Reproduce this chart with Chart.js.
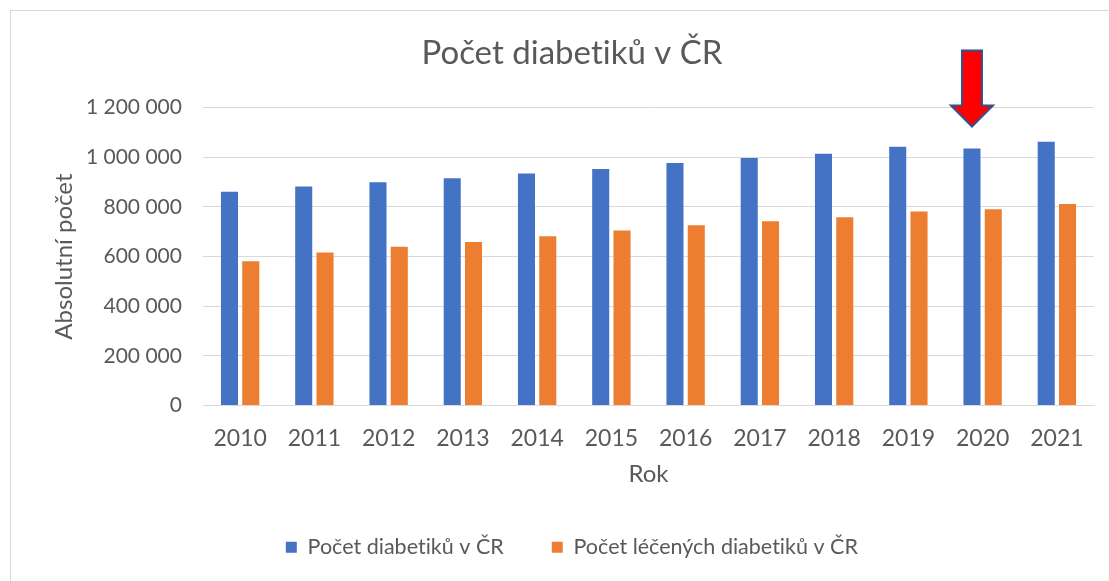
<!DOCTYPE html>
<html>
<head>
<meta charset="utf-8">
<script src="https://cdn.jsdelivr.net/npm/chart.js@4"></script>
<style>
  html, body { margin: 0; padding: 0; background: #fff; overflow: hidden; }
  #wrap { position: relative; width: 1109px; height: 581px; }
  #frame { position: absolute; left: 10px; top: 10px; width: 1200px; height: 700px; border: 1px solid #d9d9d9; box-sizing: border-box; }
  canvas { position: absolute; left: 0; top: 0; }
</style>
</head>
<body>
<div id="wrap">
  <div id="frame"></div>
  <canvas id="chart" width="1109" height="581"></canvas>
</div>
<script>
const years = ['2010', '2011', '2012', '2013', '2014', '2015', '2016', '2017', '2018', '2019', '2020', '2021'];
const diabetici = [861000, 882000, 899000, 915000, 935000, 953000, 977000, 997000, 1014000, 1042000, 1035000, 1062000];
const leceni = [581000, 616000, 639000, 659000, 682000, 705000, 726000, 742000, 758000, 781000, 791000, 812000];
const yTicks = [0, 200000, 400000, 600000, 800000, 1000000, 1200000];
const arrowYear = '2020';

const textColor = '#595959';
const gridColor = '#d9d9d9';

// "1 200 000" style
function fmt(v) {
    return String(v).replace(/\B(?=(\d{3})+(?!\d))/g, ' ');
}

// Lato draws "ti" as a ligature, switch that off
const noLigatures = {
    id: 'noLigatures',
    beforeDraw(chart) {
        chart.ctx.textRendering = 'optimizeSpeed';
        chart.ctx.letterSpacing = '0.01px';
    }
};

// red arrow pointing at the blue 2020 bar
const arrowPlugin = {
    id: 'arrow',
    afterDatasetsDraw(chart) {
        const idx = years.indexOf(arrowYear);
        const bar = chart.getDatasetMeta(0).data[idx];
        if (!bar) return;
        const ctx = chart.ctx;
        const x = bar.x;
        const tip = bar.y - 22;
        const headTop = tip - 21;
        const top = tip - 76;
        ctx.save();
        ctx.beginPath();
        ctx.moveTo(x - 10, top);
        ctx.lineTo(x + 10, top);
        ctx.lineTo(x + 10, headTop);
        ctx.lineTo(x + 21, headTop);
        ctx.lineTo(x, tip);
        ctx.lineTo(x - 21, headTop);
        ctx.lineTo(x - 10, headTop);
        ctx.closePath();
        ctx.fillStyle = '#ff0000';
        ctx.fill();
        ctx.lineWidth = 2;
        ctx.strokeStyle = '#2f528f';
        ctx.stroke();
        ctx.restore();
    }
};

Chart.defaults.font.family = 'Lato';
Chart.defaults.color = textColor;

new Chart(document.getElementById('chart'), {
    type: 'bar',
    data: {
        labels: years,
        datasets: [{
            label: 'Počet diabetiků v ČR',
            data: diabetici,
            backgroundColor: '#4472c4'
        }, {
            label: 'Počet léčených diabetiků v ČR',
            data: leceni,
            backgroundColor: '#ed7d31'
        }]
    },
    options: {
        responsive: false,
        animation: false,
        categoryPercentage: 0.574,
        barPercentage: 0.8,
        layout: { padding: { left: 50, right: 15, top: 0, bottom: 13 } },
        plugins: {
            title: {
                display: true,
                text: 'Počet diabetiků v ČR',
                color: textColor,
                font: { size: 33, weight: 'normal' },
                padding: { top: 34, bottom: 34 }
            },
            legend: {
                position: 'bottom',
                labels: {
                    boxWidth: 11,
                    boxHeight: 11,
                    padding: 48,
                    color: textColor,
                    font: { size: 21.5 }
                }
            },
            tooltip: { enabled: false }
        },
        scales: {
            x: {
                grid: { display: false },
                border: { color: gridColor },
                ticks: { padding: 11, font: { size: 23 }, color: textColor },
                title: {
                    display: true,
                    text: 'Rok',
                    color: textColor,
                    font: { size: 24 },
                    padding: { top: 0, bottom: 0 }
                },
                afterFit(scale) { scale.height = 83; }
            },
            y: {
                min: 0,
                max: 1200000,
                border: { display: false },
                grid: { color: gridColor, lineWidth: 1, drawTicks: false },
                afterBuildTicks(scale) { scale.ticks = yTicks.map(v => ({ value: v })); },
                ticks: {
                    padding: 21,
                    font: { size: 21 },
                    color: textColor,
                    callback: v => fmt(v)
                },
                title: {
                    display: true,
                    text: 'Absolutní počet',
                    color: textColor,
                    font: { size: 24 },
                    padding: { top: 0, bottom: 0 }
                },
                afterFit(scale) { scale.width = 153; }
            }
        }
    },
    plugins: [noLigatures, arrowPlugin]
});
</script>
</body>
</html>
